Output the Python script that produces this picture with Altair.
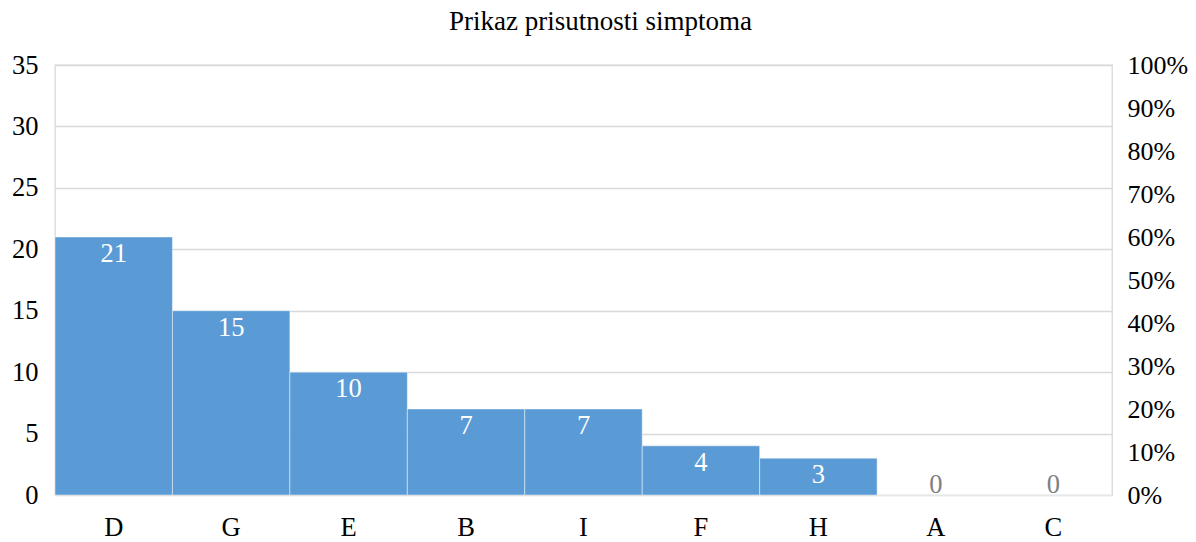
import altair as alt
import pandas as pd

categories = ["D", "G", "E", "B", "I", "F", "H", "A", "C"]
counts = [21, 15, 10, 7, 7, 4, 3, 0, 0]

total = sum(counts)
cum = []
s = 0
for v in counts:
    s += v
    cum.append(s / total)

df = pd.DataFrame({"cat": categories, "val": counts, "pct": cum})

FONT = "Liberation Serif"
FS = 26.5

x_enc = alt.X(
    "cat:N",
    sort=categories,
    scale=alt.Scale(paddingInner=0, paddingOuter=0),
    axis=alt.Axis(
        title=None, labelAngle=0, ticks=False, domain=False,
        labelFont=FONT, labelFontSize=FS, labelColor="#000000",
        labelPadding=19,
    ),
)

y_left = alt.Y(
    "val:Q",
    scale=alt.Scale(domain=[0, 35], nice=False),
    axis=alt.Axis(
        title=None, values=[0, 5, 10, 15, 20, 25, 30, 35], ticks=False,
        domain=False, grid=True, gridColor="#d9d9d9", gridWidth=1.3,
        labelFont=FONT, labelFontSize=FS, labelColor="#000000",
        labelPadding=17,
    ),
)

bars = alt.Chart(df).mark_bar(
    color="#5B9BD5", stroke="#ffffff", strokeWidth=1, strokeOpacity=0.45
).encode(x=x_enc, y=y_left)

labels_on = alt.Chart(df).transform_filter("datum.val > 0").mark_text(
    font=FONT, fontSize=FS, color="#ffffff", baseline="alphabetic", dy=25
).encode(x=x_enc, y=y_left, text="val:Q")

labels_zero = alt.Chart(df).transform_filter("datum.val == 0").mark_text(
    font=FONT, fontSize=FS, color="#808080", baseline="alphabetic", dy=-2
).encode(x=x_enc, y=y_left, text="val:Q")

left = alt.layer(bars, labels_on, labels_zero)

right = alt.Chart(df).mark_point(opacity=0).encode(
    x=x_enc,
    y=alt.Y(
        "pct:Q",
        scale=alt.Scale(domain=[0, 1], nice=False),
        axis=alt.Axis(
            title=None, orient="right", format=".0%",
            values=[0, 0.1, 0.2, 0.3, 0.4, 0.5, 0.6, 0.7, 0.8, 0.9, 1.0],
            ticks=False, domain=False, grid=False,
            labelFont=FONT, labelFontSize=26, labelColor="#000000",
            labelPadding=15,
        ),
    ),
)

chart = alt.layer(left, right, title="Prikaz prisutnosti simptoma").resolve_scale(
    y="independent"
).properties(
    width=1057,
    height=430,
    background="#ffffff",
    autosize=alt.AutoSizeParams(type="none"),
    padding={"left": 47, "top": 57, "right": 76, "bottom": 46},
).configure_title(
    font=FONT, fontSize=27, fontWeight="normal", color="#000000",
    anchor="middle", frame="group", dx=17, offset=16,
).configure_view(stroke="#d9d9d9", strokeWidth=1.3)

chart.save("out.html", embed_options={"renderer": "svg", "actions": False})
